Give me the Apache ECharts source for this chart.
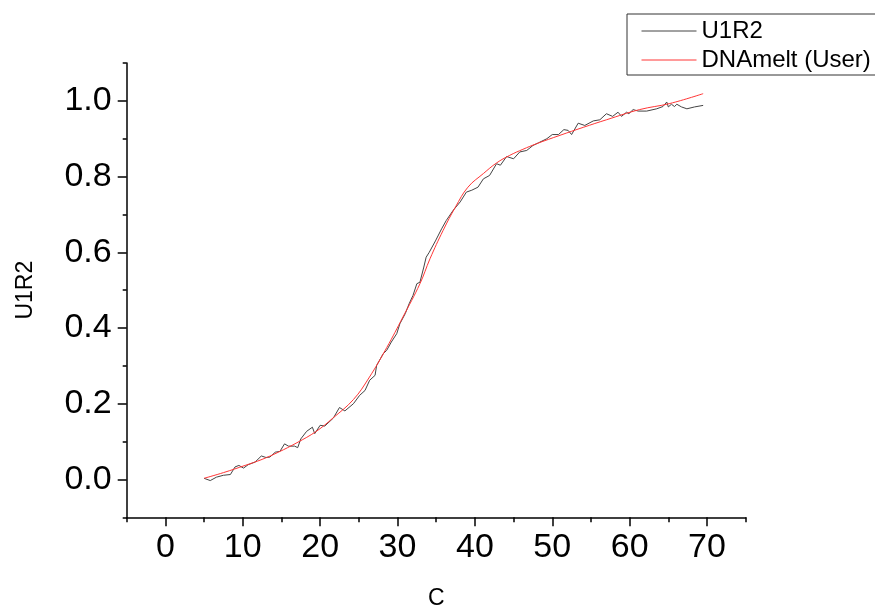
<!DOCTYPE html>
<html>
<head>
<meta charset="utf-8">
<script src="https://cdn.jsdelivr.net/npm/echarts@6/dist/echarts.min.js"></script>
<style>
html,body{margin:0;padding:0;background:#fff;}
#chart{width:875px;height:606px;}
</style>
</head>
<body>
<div id="chart"></div>
<script>
var blackX = [5.0,5.8,6.6,7.5,8.4,9.0,9.5,10.1,10.7,11.6,12.4,13.0,13.5,14.2,14.8,15.4,15.9,16.7,17.1,17.5,18.25,19.0,19.3,20.0,20.6,21.7,22.5,23.2,24.3,25.1,25.8,26.4,27.1,27.3,28.15,28.6,29.2,29.9,30.3,31.0,31.5,32.0,32.5,32.9,33.4,33.7,34.1,34.9,35.7,36.3,37.2,38.1,38.9,39.6,40.4,41.1,41.9,42.8,43.3,44.1,45.0,45.8,46.7,47.5,48.2,49.3,50.0,50.8,51.5,52.05,52.5,53.35,54.2,55.3,56.15,57.0,57.8,58.5,58.95,59.6,59.9,60.45,61.1,61.3,62.2,63.5,64.3,64.8,65.0,65.4,65.8,66.1,66.7,67.4,68.4,69.5];
var blackY = [0.003,-0.003,0.006,0.011,0.013,0.033,0.037,0.030,0.039,0.046,0.062,0.058,0.059,0.072,0.074,0.094,0.088,0.088,0.084,0.107,0.127,0.138,0.121,0.143,0.141,0.162,0.190,0.181,0.200,0.222,0.235,0.262,0.275,0.301,0.332,0.341,0.363,0.385,0.411,0.438,0.464,0.486,0.517,0.521,0.561,0.587,0.600,0.630,0.662,0.684,0.711,0.733,0.759,0.764,0.772,0.794,0.803,0.834,0.830,0.853,0.847,0.865,0.869,0.882,0.889,0.900,0.911,0.911,0.924,0.922,0.911,0.941,0.935,0.947,0.950,0.966,0.959,0.970,0.959,0.970,0.966,0.977,0.973,0.968,0.973,0.979,0.985,0.997,0.984,0.991,0.985,0.991,0.984,0.979,0.984,0.988];
// Fitted curve (DNAmelt (User))
var redX = [5.0,7.5,10.3,12.5,14.6,17.0,19.5,21.7,24.3,26.3,28.6,30.7,32.9,34.2,35.9,37.5,39.1,41.1,42.8,44.5,46.2,48.0,51.0,54.0,57.0,61.3,65.2,69.5];
var redY = [0.003,0.018,0.037,0.053,0.072,0.097,0.127,0.163,0.211,0.268,0.348,0.429,0.517,0.583,0.658,0.720,0.772,0.808,0.836,0.856,0.872,0.887,0.909,0.930,0.950,0.977,0.993,1.019];
// Tick labels
var xMajor = [0,10,20,30,40,50,60,70];
var xMinor = [-5,5,15,25,35,45,55,65,75];
var yMajor = [0.0,0.2,0.4,0.6,0.8,1.0];
var yMinor = [-0.1,0.1,0.3,0.5,0.7,0.9,1.1];

function pairs(xs, ys){ var r=[]; for(var i=0;i<xs.length;i++) r.push([xs[i],ys[i]]); return r; }

var FONT = 'Liberation Sans, Arial, sans-serif';
var axisColor = '#000';

var chart = echarts.init(document.getElementById('chart'), null, {renderer:'canvas'});
chart.setOption({
  animation:false,
  backgroundColor:'#fff',
  grid: {left:126.7, right:875-745.7, top:63, bottom:606-517.3, containLabel:false, outerBoundsMode:'none'},
  legend: {
    orient:'vertical', left:627, top:14,
    borderColor:'#333', borderWidth:1, borderRadius:0,
    padding:[5,5,3,14], itemGap:5, itemWidth:55, itemHeight:14,
    itemStyle:{opacity:0},
    lineStyle:{width:1},
    textStyle:{fontFamily:FONT, fontSize:24, color:'#000'},
    data:['U1R2','DNAmelt (User)']
  },
  xAxis: [{
    type:'value', min:-5, max:75, position:'bottom',
    name:'C', nameLocation:'middle', nameGap:70,
    nameTextStyle:{fontFamily:FONT, fontSize:23, color:'#000'},
    axisLine:{show:true, onZero:false, lineStyle:{color:axisColor, width:1.5}},
    axisTick:{show:true, inside:false, length:9, customValues:xMajor, lineStyle:{color:axisColor, width:1.5}},
    axisLabel:{show:true, margin:13, customValues:xMajor, fontFamily:FONT, fontSize:34, color:'#000'},
    splitLine:{show:false}
  },{
    type:'value', min:-5, max:75, position:'bottom',
    axisLine:{show:false, onZero:false},
    axisTick:{show:true, inside:false, length:5, customValues:xMinor, lineStyle:{color:axisColor, width:1.5}},
    axisLabel:{show:false, customValues:xMinor},
    splitLine:{show:false}
  }],
  yAxis: [{
    type:'value', min:-0.1, max:1.1, position:'left',
    name:'U1R2', nameLocation:'middle', nameGap:90,
    nameTextStyle:{fontFamily:FONT, fontSize:23, color:'#000'},
    axisLine:{show:true, onZero:false, lineStyle:{color:axisColor, width:1.5}},
    axisTick:{show:true, inside:false, length:9, customValues:yMajor, lineStyle:{color:axisColor, width:1.5}},
    axisLabel:{show:true, margin:15, customValues:yMajor, fontFamily:FONT, fontSize:34, color:'#000',
      formatter:function(v){return v.toFixed(1);}},
    splitLine:{show:false}
  },{
    type:'value', min:-0.1, max:1.1, position:'left',
    axisLine:{show:false, onZero:false},
    axisTick:{show:true, inside:false, length:4, customValues:yMinor, lineStyle:{color:axisColor, width:1.5}},
    axisLabel:{show:false, customValues:yMinor},
    splitLine:{show:false}
  }],
  series: [{
    name:'U1R2', type:'line', data:pairs(blackX, blackY),
    showSymbol:false, symbol:'none',
    lineStyle:{color:'#444', width:1}, itemStyle:{color:'#444'}
  },{
    name:'DNAmelt (User)', type:'line', data:pairs(redX, redY),
    showSymbol:false, symbol:'none', smooth:0.4,
    lineStyle:{color:'#ff3636', width:1}, itemStyle:{color:'#ff3636'}
  }]
});
</script>
</body>
</html>
